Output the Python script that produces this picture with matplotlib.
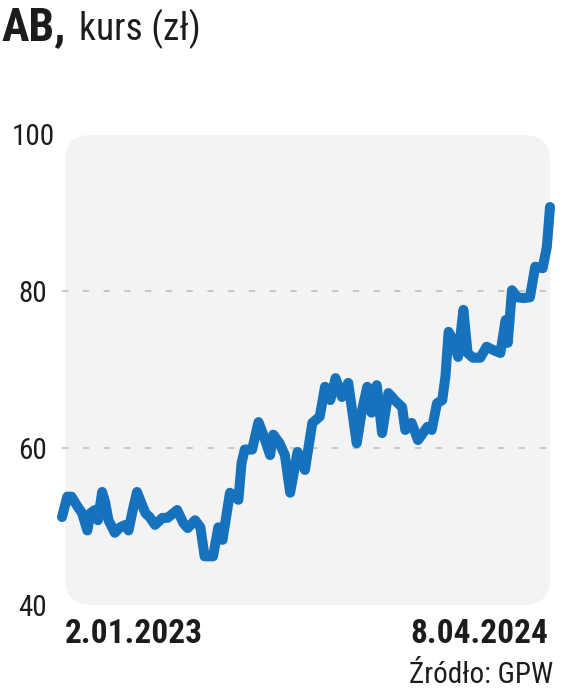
import matplotlib
matplotlib.use('Agg')
import matplotlib.pyplot as plt
from matplotlib.patches import FancyBboxPatch

plt.rcParams['font.family'] = ['Roboto Condensed', 'Roboto', 'DejaVu Sans']

# trading days since 2.01.2023 (approx) and closing price in zl
days = [0, 5, 9, 14, 19, 24, 27, 31, 34, 38, 41, 44, 50, 55, 60, 63, 67, 71, 76, 79,
        83, 88, 95, 100, 109, 115, 119, 126, 131, 135, 143, 148, 152, 159, 167, 170,
        173, 180, 186, 190, 197, 200, 206, 211, 216, 223, 230, 237, 244, 249,
        254, 259, 265, 271, 279, 284, 289, 293, 298, 303, 309, 315, 322, 325, 331,
        337, 346, 350, 355, 360, 363, 366, 370, 375, 380, 384, 389, 396, 402, 408,
        415, 420, 422, 426, 431, 437, 443, 448, 455, 459, 462]
price = [51.2, 53.8, 53.8, 52.7, 51.7, 49.5, 51.7, 52.1, 50.8, 54.4, 53.0, 50.8, 49.2,
         49.9, 50.2, 49.5, 52.1, 54.4, 52.7, 51.7, 51.2, 50.2, 51.1, 51.1, 52.1, 50.4,
         49.8, 50.8, 49.9, 46.2, 46.2, 49.9, 48.3, 54.3, 53.4, 58.1, 59.8, 59.8, 63.3,
         61.9, 59.1, 61.7, 60.6, 59.1, 54.3, 59.5, 57.2, 63.2, 64.0, 67.8,
         66.1, 68.9, 66.5, 68.3, 60.6, 64.8, 67.8, 64.5, 68.0, 61.9, 67.0, 66.1, 65.2,
         62.3, 63.2, 61.0, 62.7, 62.3, 65.7, 66.1, 69.1, 74.8, 73.8, 71.6, 77.6, 72.1,
         71.5, 71.5, 72.9, 72.5, 72.1, 76.3, 73.4, 80.1, 79.2, 79.1, 79.2, 83.1, 82.9,
         85.6, 90.7]

yticks = [40, 60, 80, 100]
grid_lines = [60, 80]
date_first = '2.01.2023'
date_last = '8.04.2024'

blue = '#1772be'
ink = '#1c1c1c'

fig = plt.figure(figsize=(5.64, 6.94), dpi=100)

# rounded grey panel behind the chart
panel = FancyBboxPatch((0.65, 0.89), 4.85, 4.70,
                       boxstyle='round,pad=0,rounding_size=0.26',
                       transform=fig.dpi_scale_trans,
                       facecolor='#f3f3f3', edgecolor='none', zorder=0)
fig.add_artist(panel)

ax = fig.add_axes([62 / 564, 89 / 694, 488 / 564, 471 / 694])
ax.patch.set_alpha(0)
ax.set_xlim(0, 462)
ax.set_ylim(40, 100)

for g in grid_lines:
    ax.axhline(g, color='#c4c4c4', lw=1.3, ls=(0, (3.5, 8)), zorder=1)

ax.plot(days, price, color=blue, lw=7.2, solid_joinstyle='round',
        solid_capstyle='round', zorder=3, clip_on=False)

for s in ax.spines.values():
    s.set_visible(False)
ax.set_xticks([])
ax.set_yticks(yticks)
ax.set_yticklabels([str(t) for t in yticks], fontsize=21, color=ink)
ax.tick_params(axis='y', length=0, pad=21)
for lbl in ax.get_yticklabels():
    lbl.set_horizontalalignment('center')

fig.text(1 / 564, 1 - 40 / 694, 'AB,', fontsize=33, fontweight='bold', color=ink,
         va='baseline', ha='left')
fig.text(79 / 564, 1 - 40 / 694, 'kurs (zł)', fontsize=27, color=ink,
         va='baseline', ha='left')

fig.text(65 / 564, 1 - 643 / 694, date_first, fontsize=24, fontweight='bold',
         color=ink, va='baseline', ha='left')
fig.text(548 / 564, 1 - 643 / 694, date_last, fontsize=24, fontweight='bold',
         color=ink, va='baseline', ha='right')
fig.text(553 / 564, 1 - 683 / 694, 'Źródło: GPW', fontsize=21, color=ink,
         va='baseline', ha='right')

fig.savefig('out.png', dpi=100)
